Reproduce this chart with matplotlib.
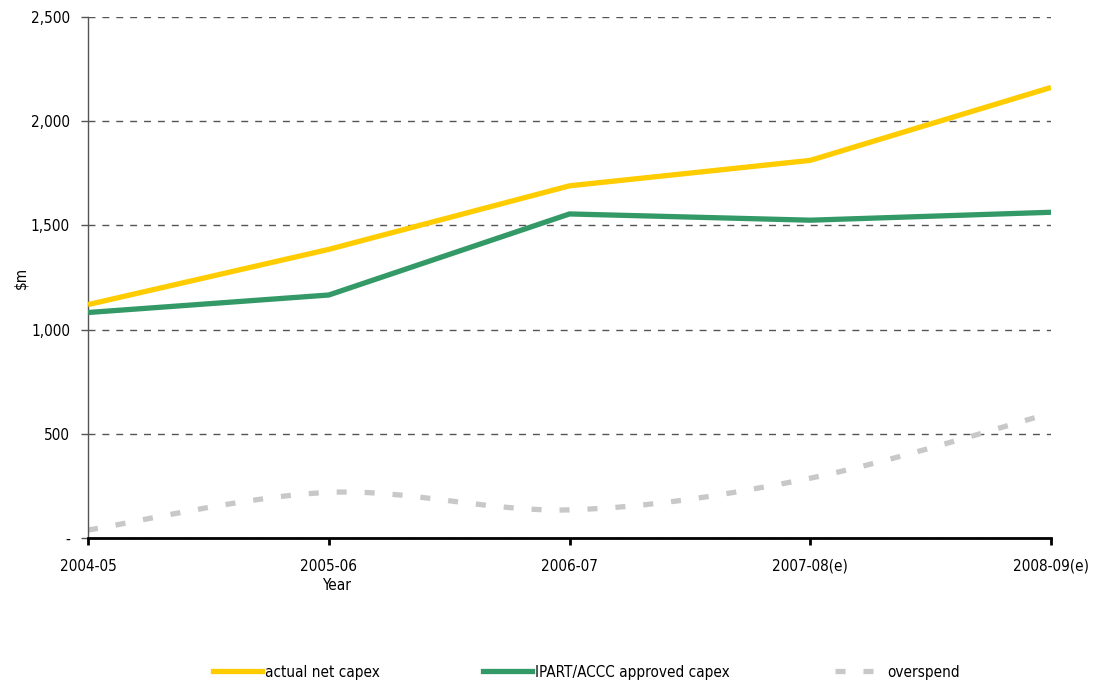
import matplotlib
matplotlib.use("Agg")
import matplotlib.pyplot as plt
from matplotlib.path import Path
from matplotlib.patches import PathPatch
from matplotlib.lines import Line2D
from matplotlib.ticker import FuncFormatter

years = ["2004-05", "2005-06", "2006-07", "2007-08(e)", "2008-09(e)"]
actual = [1120, 1385, 1690, 1812, 2162]
approved = [1082, 1166, 1555, 1525, 1563]
overspend = [38, 219, 135, 287, 599]

YELLOW = "#FFCC00"
GREEN = "#339966"
GREY = "#C8C8C8"

plt.rcParams["font.family"] = "DejaVu Sans"
plt.rcParams["font.stretch"] = "condensed"
plt.rcParams["font.size"] = 11

fig = plt.figure(figsize=(10.95, 6.83), dpi=100)
ax = fig.add_axes([0.0804, 0.2123, 0.8794, 0.7628])

x = list(range(len(years)))
ax.plot(x, actual, color=YELLOW, lw=3.8, solid_capstyle="butt", zorder=3)
ax.plot(x, approved, color=GREEN, lw=3.8, solid_capstyle="butt", zorder=3)


def smooth_path(xs, ys, t=1 / 6):
    # Catmull-Rom style cubic segments through the points
    verts = [(xs[0], ys[0])]
    codes = [Path.MOVETO]
    n = len(xs)
    for i in range(n - 1):
        x0, y0 = xs[max(i - 1, 0)], ys[max(i - 1, 0)]
        x1, y1 = xs[i], ys[i]
        x2, y2 = xs[i + 1], ys[i + 1]
        x3, y3 = xs[min(i + 2, n - 1)], ys[min(i + 2, n - 1)]
        c1 = (x1 + (x2 - x0) * t, y1 + (y2 - y0) * t)
        c2 = (x2 - (x3 - x1) * t, y2 - (y3 - y1) * t)
        verts += [c1, c2, (x2, y2)]
        codes += [Path.CURVE4] * 3
    return Path(verts, codes)


patch = PathPatch(smooth_path(x, overspend), fill=False, edgecolor=GREY,
                  lw=3.8, linestyle=(0, (1.9, 3.4)), capstyle="butt", zorder=2)
ax.add_patch(patch)

ax.set_xlim(0, len(years) - 1)
ax.set_ylim(0, 2500)
ax.set_yticks(range(0, 2501, 500))
ax.yaxis.set_major_formatter(FuncFormatter(lambda v, p: "-" if v == 0 else f"{int(v):,}"))
ax.set_xticks(x)
ax.set_xticklabels(years)

ax.grid(axis="y", color="#555555", linestyle=(0, (5, 5)), lw=1)
ax.set_axisbelow(True)

for s in ["top", "right"]:
    ax.spines[s].set_visible(False)
ax.spines["left"].set_color("#555555")
ax.spines["left"].set_linewidth(1)
ax.spines["bottom"].set_color("black")
ax.spines["bottom"].set_linewidth(2)
ax.spines["bottom"].set_zorder(4)

ax.tick_params(axis="y", length=5, width=1, color="#555555", pad=8)
ax.tick_params(axis="x", length=5, width=2, color="black", pad=10)

ax.set_ylabel("$m")
ax.yaxis.set_label_coords(-0.062, 0.5)
fig.text(0.307, 0.143, "Year", ha="center", va="center")

# legend entries placed one by one along the bottom
entries = [
    (Line2D([], [], color=YELLOW, lw=3.8), "actual net capex", 0.1945),
    (Line2D([], [], color=GREEN, lw=3.8), "IPART/ACCC approved capex", 0.441),
    (Line2D([], [], color=GREY, lw=3.8, linestyle=(0, (1.9, 3.4))), "overspend", 0.7626),
]
for handle, label, xpos in entries:
    fig.legend([handle], [label], loc="center left", bbox_to_anchor=(xpos, 0.016),
               frameon=False, handlelength=3.2, handletextpad=0.2,
               borderaxespad=0, borderpad=0)

fig.savefig("out.png", dpi=100)
